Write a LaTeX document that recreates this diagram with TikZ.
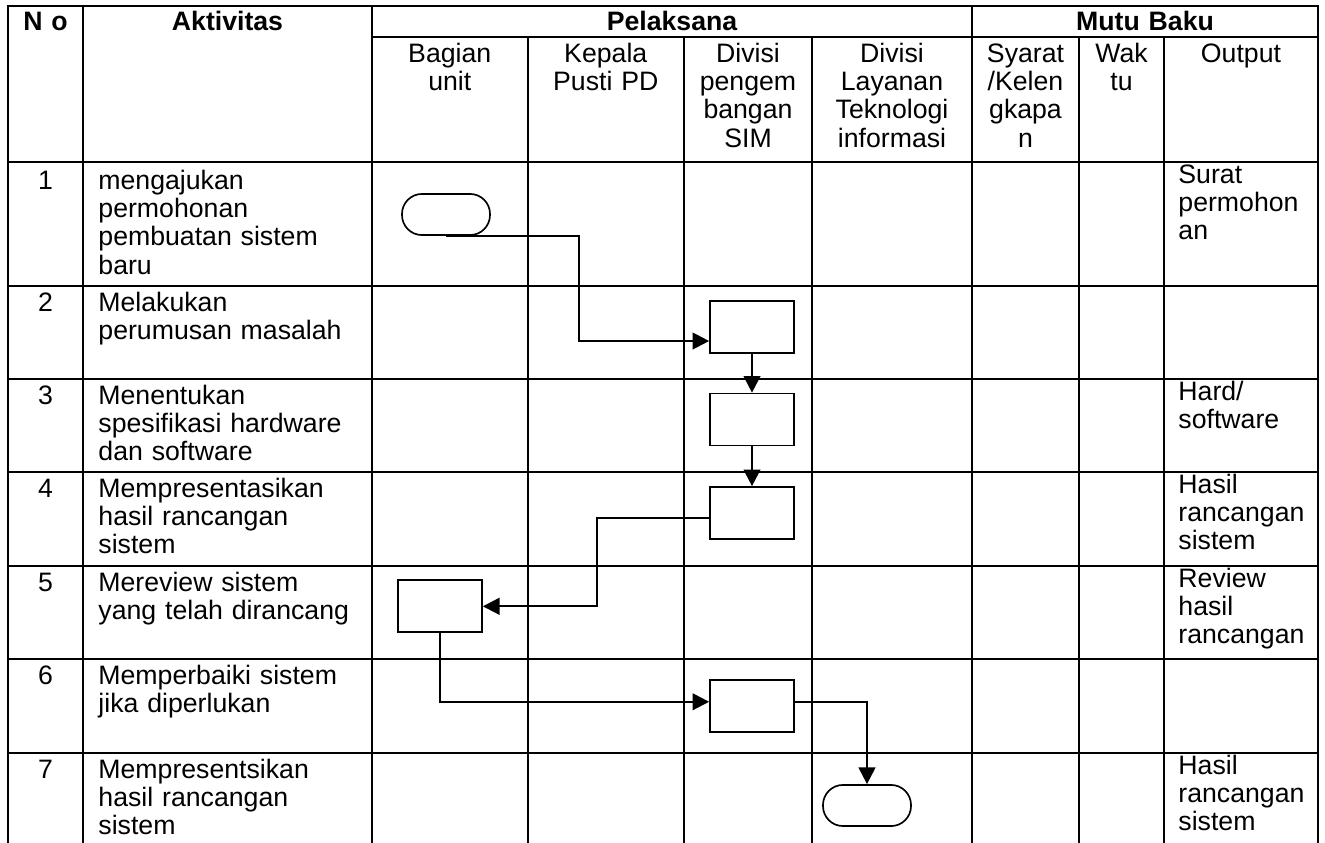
\documentclass[tikz,border=0pt]{standalone}
\usepackage{fontspec}
\setmainfont{Liberation Sans}
\usepackage{tikz}
\usetikzlibrary{arrows.meta}
\newcommand{\isifont}{\fontsize{12}{12.75}\selectfont}
\tikzset{
    garis/.style={line width=0.9pt, line cap=rect},
    kepala/.style={inner sep=0pt, anchor=base, align=center, text width=64pt,
        font=\isifont\bfseries},
    subkepala/.style={inner sep=0pt, anchor=base, align=center, text width=64pt,
        font=\isifont},
    nomor/.style={inner sep=0pt, anchor=base, font=\isifont},
    aktivitas/.style={inner sep=0pt, anchor=base west, align=left, text width=120pt,
        font=\isifont},
    keluaran/.style={inner sep=0pt, anchor=base west, align=left, text width=66pt,
        font=\isifont},
    prosesbox/.style={rectangle, draw, line width=0.75pt, minimum width=37.8pt,
        minimum height=23.4pt, inner sep=0pt},
    terminalbox/.style={rectangle, rounded corners=9pt, draw, line width=0.75pt,
        minimum width=39.6pt, minimum height=18.5pt, inner sep=0pt},
    alur/.style={-{Triangle[length=7.5pt,width=7.5pt]}, line width=1pt},
}

\begin{document}
\begin{tikzpicture}[x=0.45pt, y=-0.45pt]
    \useasboundingbox (0,0) rectangle (1325,843);

    % tabel
    \foreach \y in {6,162,286,379,472,566,659,753}
        \draw[garis] (8,\y) -- (1318,\y);
    \draw[garis] (372,37) -- (1318,37);
    \foreach \x in {8,83,372,972,1318}
        \draw[garis] (\x,6) -- (\x,843);
    \foreach \x in {527.5,684,812,1079,1164}
        \draw[garis] (\x,37) -- (\x,843);

    % judul kolom
    \node[kepala] (hNo) at (45.5,30) {N o};
    \node[kepala] (hAkt) at (227.5,30) {Aktivitas};
    \node[kepala, text width=120pt] (hPel) at (672,30) {Pelaksana};
    \node[kepala, text width=120pt] (hMutu) at (1145,30) {Mutu Baku};

    \node[subkepala] (sBagian) at (449.75,62) {Bagian\\unit};
    \node[subkepala] (sKepala) at (605.75,62) {Kepala\\Pusti PD};
    \node[subkepala] (sSIM) at (748,62) {Divisi\\pengem\\bangan\\SIM};
    \node[subkepala] (sLayanan) at (892,62) {Divisi\\Layanan\\Teknologi\\informasi};
    \node[subkepala] (sSyarat) at (1025.5,62) {Syarat\\/Kelen\\gkapa\\n};
    \node[subkepala] (sWaktu) at (1121.5,62) {Wak\\tu};
    \node[subkepala] (sOutput) at (1241,62) {Output};

    % isi baris
    \node[nomor] (no1) at (45.5,189) {1};
    \node[aktivitas] (akt1) at (98,189) {mengajukan\\permohonan\\pembuatan sistem\\baru};
    \node[keluaran] (out1) at (1178,183) {Surat\\permohon\\an};

    \node[nomor] (no2) at (45.5,311) {2};
    \node[aktivitas] (akt2) at (98,311) {Melakukan\\perumusan masalah};

    \node[nomor] (no3) at (45.5,404) {3};
    \node[aktivitas] (akt3) at (98,404) {Menentukan\\spesifikasi hardware\\dan software};
    \node[keluaran] (out3) at (1178,400) {Hard/\\software};

    \node[nomor] (no4) at (45.5,497) {4};
    \node[aktivitas] (akt4) at (98,497) {Mempresentasikan\\hasil rancangan\\sistem};
    \node[keluaran] (out4) at (1178,493) {Hasil\\rancangan\\sistem};

    \node[nomor] (no5) at (45.5,591) {5};
    \node[aktivitas] (akt5) at (98,591) {Mereview sistem\\yang telah dirancang};
    \node[keluaran] (out5) at (1178,587) {Review\\hasil\\rancangan};

    \node[nomor] (no6) at (45.5,684) {6};
    \node[aktivitas] (akt6) at (98,684) {Memperbaiki sistem\\jika diperlukan};

    \node[nomor] (no7) at (45.5,778) {7};
    \node[aktivitas] (akt7) at (98,778) {Mempresentsikan\\hasil rancangan\\sistem};
    \node[keluaran] (out7) at (1178,774) {Hasil\\rancangan\\sistem};

    % simbol alur
    \node[terminalbox] (mulai) at (446,214.5) {};
    \node[prosesbox] (p2) at (752,327) {};
    \node[prosesbox] (p3) at (752,419.5) {};
    \node[prosesbox] (p4) at (752,513) {};
    \node[prosesbox] (p5) at (440,606.3) {};
    \node[prosesbox] (p6) at (752,706) {};
    \node[terminalbox] (selesai) at (867,805.5) {};

    \coordinate (k1) at (579,341);
    \coordinate (k2) at (597,606.3);

    \draw[alur] (mulai.south) -| (k1) -- (k1 -| p2.west);
    \draw[alur] (p2.south) -- (p3.north);
    \draw[alur] (p3.south) -- (p4.north);
    \draw[alur] ([yshift=-2.1pt]p4.west) -| (k2) -- (p5.east);
    \draw[alur] (p5.south) |- ([yshift=1.9pt]p6.west);
    \draw[alur] ([yshift=1.9pt]p6.east) -| (selesai.north);
\end{tikzpicture}
\end{document}
